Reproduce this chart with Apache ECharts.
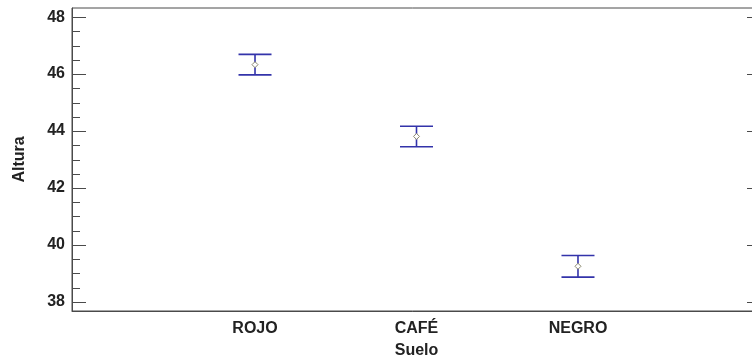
<!DOCTYPE html>
<html>
<head>
<meta charset="utf-8">
<script src="https://cdn.jsdelivr.net/npm/echarts@6/dist/echarts.min.js"></script>
<style>
  html, body { margin: 0; padding: 0; background: #ffffff; }
  #chart { width: 752px; height: 355px; }
</style>
</head>
<body>
<div id="chart"></div>
<script>
// Soil colour groups and the mean height with its interval for each
const categories = ['ROJO', 'CAFÉ', 'NEGRO'];
const categoryPositions = [1, 2, 3];
const means = [46.33, 43.81, 39.25];
const lowerLimits = [45.97, 43.45, 38.87];
const upperLimits = [46.69, 44.17, 39.63];

// Vertical axis tick values
const yMajorTicks = [38, 40, 42, 44, 46, 48];
const yMinorTicks = [38.5, 39, 39.5, 40.5, 41, 41.5, 42.5, 43, 43.5,
                     44.5, 45, 45.5, 46.5, 47, 47.5];

const font = 'Liberation Sans, Arial, sans-serif';
const textColor = '#222222';
const axisColor = '#4a4a4a';
const barColor = '#3333aa';

const xRange = { min: -0.1333, max: 4.1333 };
const yRange = { min: 37.68, max: 48.32 };

const intervalData = categoryPositions.map((x, i) => [x, lowerLimits[i], upperLimits[i]]);
const meanData = categoryPositions.map((x, i) => [x, means[i]]);

const chart = echarts.init(document.getElementById('chart'), null, { renderer: 'canvas' });

chart.setOption({
  animation: false,
  backgroundColor: '#ffffff',
  grid: {
    left: 72, top: 8, width: 689, height: 303,
    containLabel: false,
    outerBoundsMode: 'none',
    show: true, borderColor: axisColor, borderWidth: 1, backgroundColor: 'transparent'
  },
  xAxis: {
    type: 'value',
    min: xRange.min, max: xRange.max,
    splitLine: { show: false },
    axisLine: { show: true, onZero: false, lineStyle: { color: axisColor, width: 1 } },
    axisTick: { show: false },
    axisLabel: {
      customValues: categoryPositions,
      formatter: v => categories[categoryPositions.indexOf(Math.round(v))] || '',
      fontFamily: font, fontSize: 16, fontWeight: 'bold', color: textColor, margin: 10
    },
    name: 'Suelo',
    nameLocation: 'middle',
    nameGap: 32,
    nameTextStyle: { fontFamily: font, fontSize: 16, fontWeight: 'bold', color: textColor }
  },
  yAxis: [
    {
      type: 'value',
      position: 'left',
      min: yRange.min, max: yRange.max,
      splitLine: { show: false },
      axisLine: { show: true, onZero: false, lineStyle: { color: axisColor, width: 1 } },
      axisTick: { show: true, inside: true, length: 14, customValues: yMajorTicks,
                  lineStyle: { color: axisColor, width: 1 } },
      axisLabel: {
        customValues: yMajorTicks,
        fontFamily: font, fontSize: 16, fontWeight: 'bold', color: textColor, margin: 7
      },
      name: 'Altura',
      nameLocation: 'middle',
      nameRotate: 90,
      nameGap: 44,
      nameTextStyle: { fontFamily: font, fontSize: 16, fontWeight: 'bold', color: textColor }
    },
    {
      // major ticks on the right edge
      type: 'value',
      position: 'right',
      min: yRange.min, max: yRange.max,
      splitLine: { show: false },
      axisLine: { show: true, onZero: false, lineStyle: { color: axisColor, width: 1 } },
      axisTick: { show: true, inside: true, length: 14, customValues: yMajorTicks,
                  lineStyle: { color: axisColor, width: 1 } },
      axisLabel: { show: false }
    }
  ],
  series: [
    {
      // half-unit minor ticks along the left edge
      type: 'custom',
      yAxisIndex: 0,
      silent: true,
      data: yMinorTicks.map(v => [xRange.min, v]),
      renderItem: function (params, api) {
        const p = api.coord([api.value(0), api.value(1)]);
        const y = Math.round(p[1]) + 0.5;
        return {
          type: 'line',
          shape: { x1: p[0], y1: y, x2: p[0] + 8, y2: y },
          style: { stroke: axisColor, lineWidth: 1 }
        };
      },
      z: 1
    },
    {
      type: 'custom',
      yAxisIndex: 0,
      data: intervalData,
      encode: { x: 0, y: [1, 2] },
      renderItem: function (params, api) {
        const x = api.value(0);
        const lo = api.coord([x, api.value(1)]);
        const hi = api.coord([x, api.value(2)]);
        const cap = 16.5;
        const style = { stroke: barColor, lineWidth: 1.6 };
        return {
          type: 'group',
          children: [
            { type: 'line', shape: { x1: lo[0], y1: lo[1], x2: hi[0], y2: hi[1] }, style: style },
            { type: 'line', shape: { x1: hi[0] - cap, y1: hi[1], x2: hi[0] + cap, y2: hi[1] }, style: style },
            { type: 'line', shape: { x1: lo[0] - cap, y1: lo[1], x2: lo[0] + cap, y2: lo[1] }, style: style }
          ]
        };
      },
      z: 2
    },
    {
      type: 'scatter',
      yAxisIndex: 0,
      data: meanData,
      symbol: 'diamond',
      symbolSize: 6,
      itemStyle: { color: '#ffffff', borderColor: '#8c8a70', borderWidth: 1, opacity: 1 },
      z: 3
    }
  ]
});
</script>
</body>
</html>
